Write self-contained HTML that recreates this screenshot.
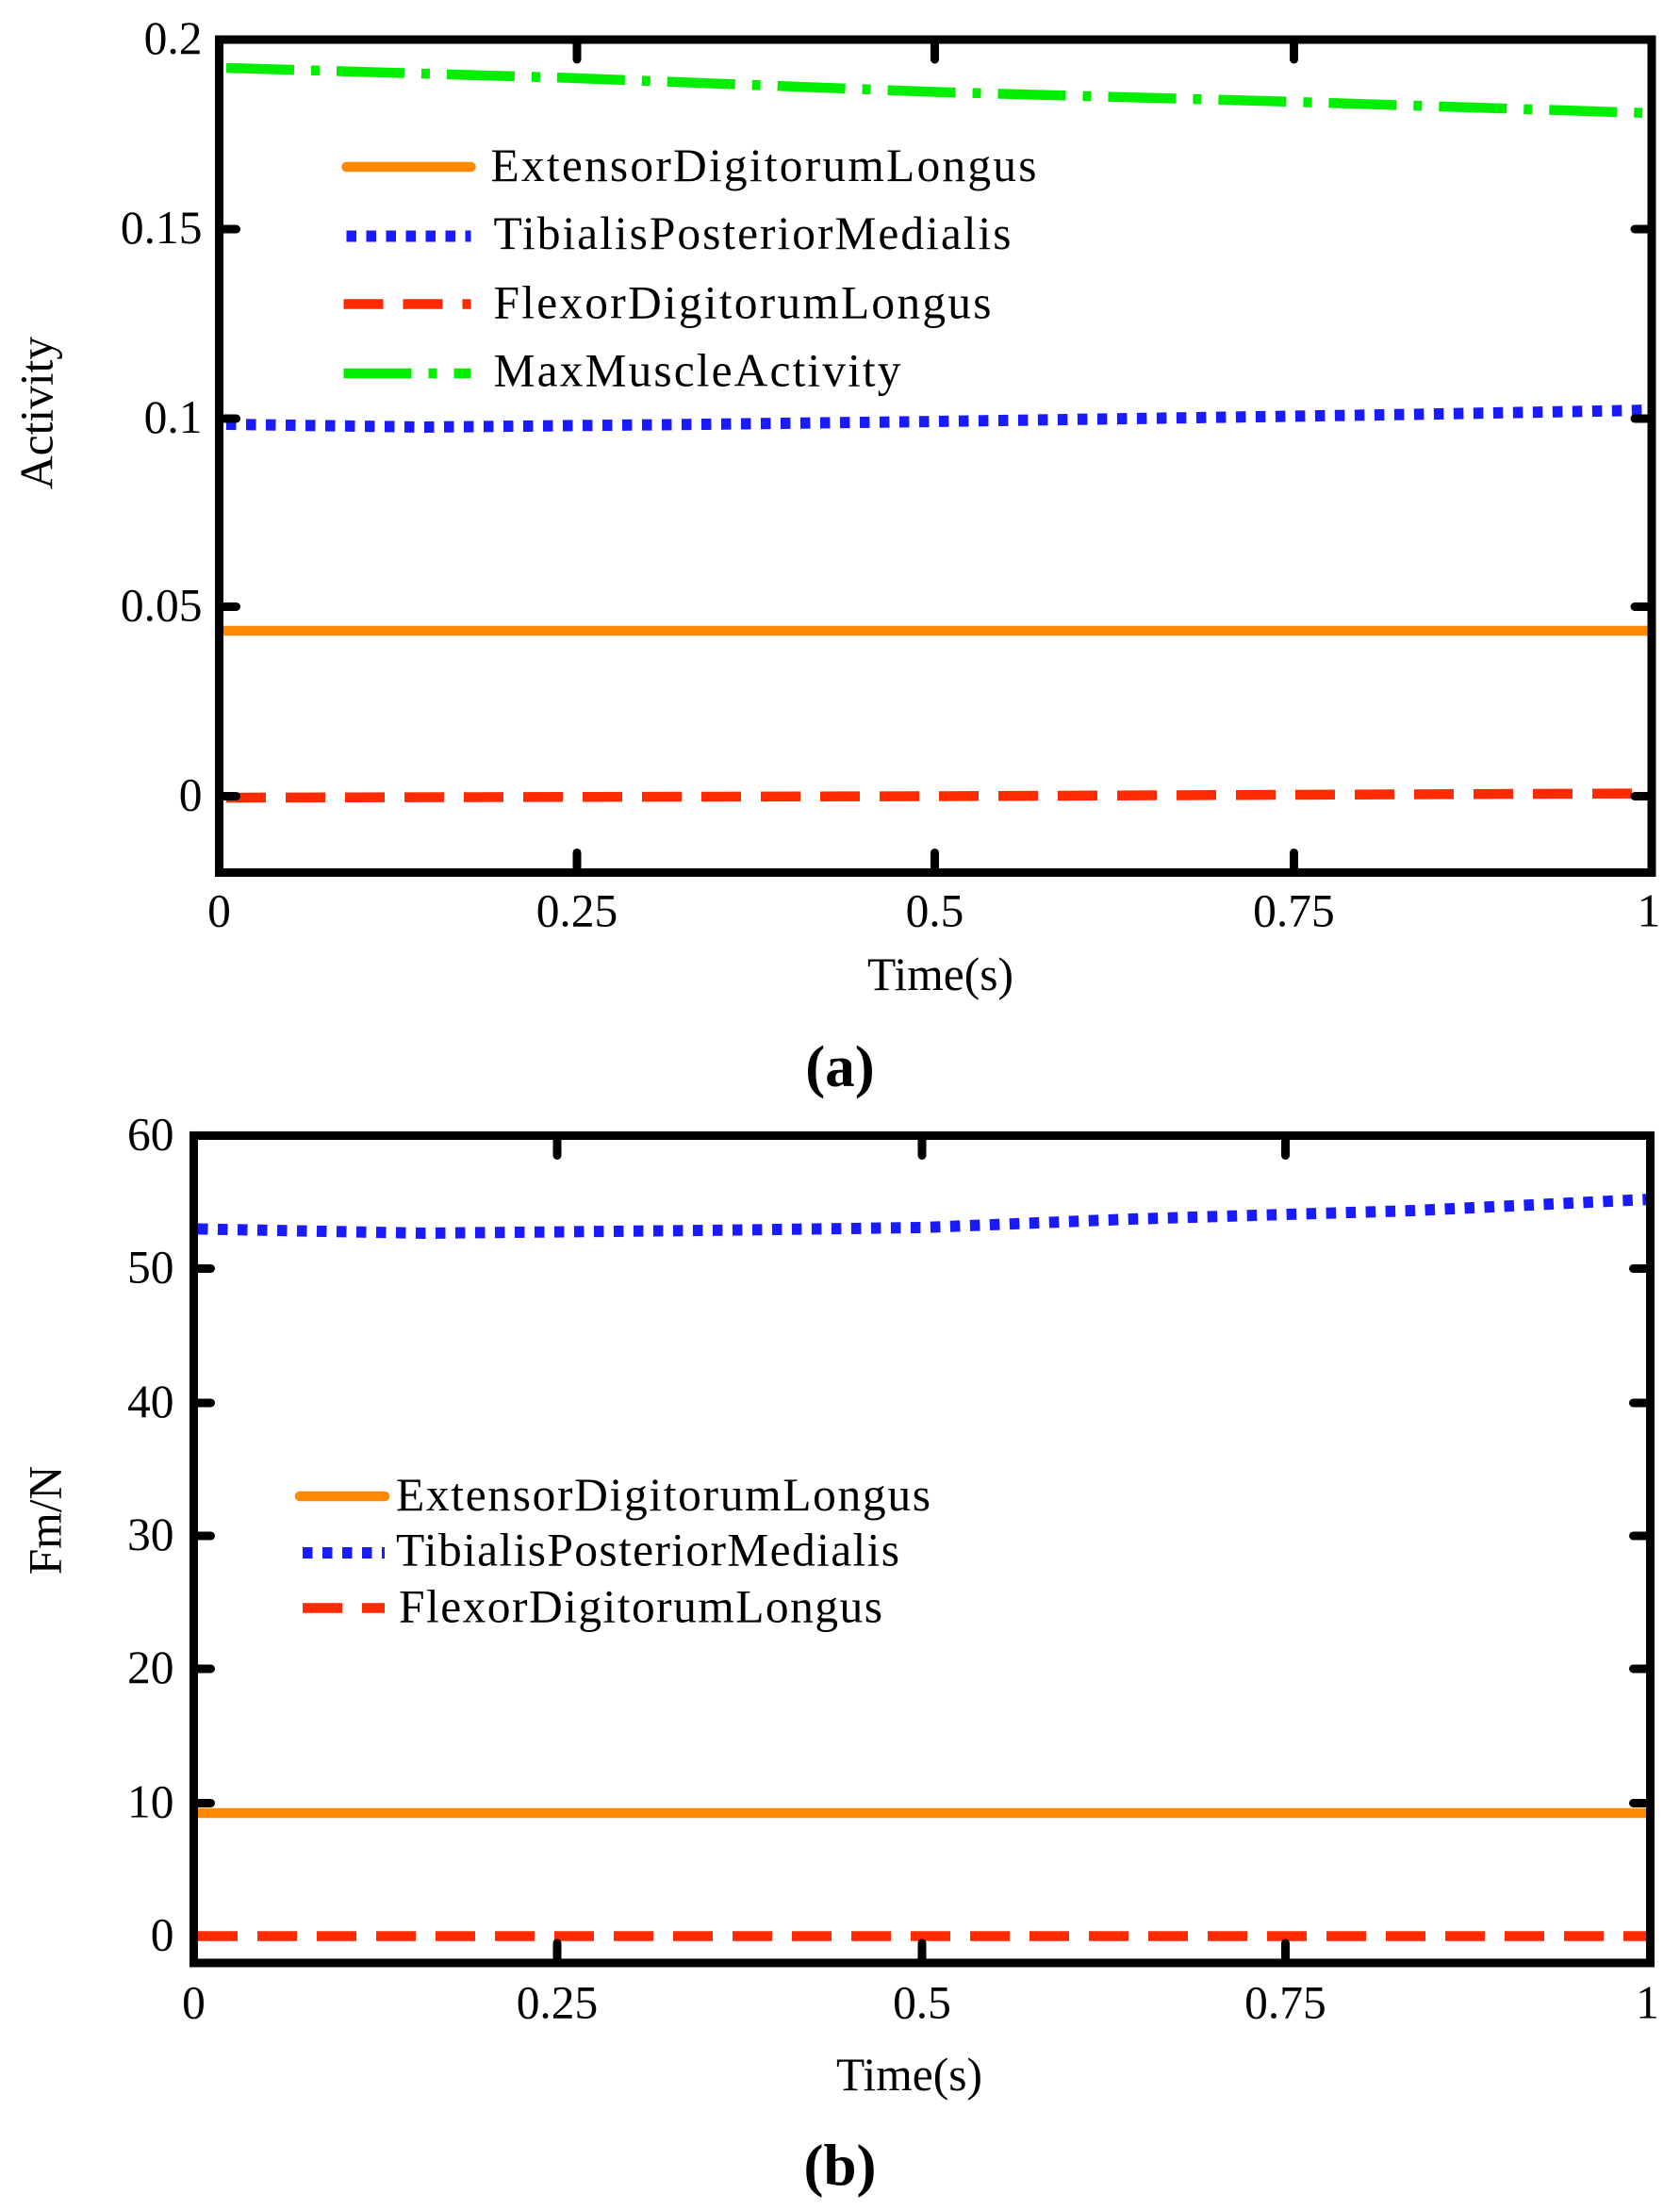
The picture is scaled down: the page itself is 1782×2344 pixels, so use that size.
<!DOCTYPE html>
<html><head><style>html,body{margin:0;padding:0;background:#fff}svg{display:block}text{font-family:"Liberation Serif","DejaVu Serif",serif}</style></head><body>
<svg width="1782" height="2344" viewBox="0 0 1188 1562.7" xmlns="http://www.w3.org/2000/svg">
<rect width="1188" height="1563" fill="#fff"/>
<!-- Plot A -->
<g>
<path d="M160,48 L400,55 L661,65 L915,72 L1168,80" fill="none" stroke="#00ee00" stroke-width="7" stroke-dasharray="48,12,6,12"/>
<path d="M160,300 L300,302 L500,300 L661,298 L800,296 L1000,293 L1168,290" fill="none" stroke="#1a1aff" stroke-width="8" stroke-dasharray="7,7"/>
<line x1="157" y1="446" x2="1168" y2="446" stroke="#ff8800" stroke-width="7"/>
<path d="M160,564 L661,563 L1168,561" fill="none" stroke="#ff2a00" stroke-width="7" stroke-dasharray="28,14"/>
<rect x="155" y="28" width="1013" height="589" fill="none" stroke="#000" stroke-width="6"/>
<g stroke="#000" stroke-width="6" stroke-linecap="round">
<line x1="408" y1="30" x2="408" y2="42"/><line x1="661" y1="30" x2="661" y2="42"/><line x1="915" y1="30" x2="915" y2="42"/>
<line x1="408" y1="615" x2="408" y2="603"/><line x1="661" y1="615" x2="661" y2="603"/><line x1="915" y1="615" x2="915" y2="603"/>
<line x1="157" y1="162" x2="167" y2="162"/><line x1="157" y1="296" x2="167" y2="296"/><line x1="157" y1="429" x2="167" y2="429"/><line x1="157" y1="563" x2="167" y2="563"/>
<line x1="1166" y1="162" x2="1156" y2="162"/><line x1="1166" y1="296" x2="1156" y2="296"/><line x1="1166" y1="429" x2="1156" y2="429"/><line x1="1166" y1="563" x2="1156" y2="563"/>
</g>
<g font-size="33" text-anchor="end">
<text x="143" y="38">0.2</text><text x="143" y="172">0.15</text><text x="143" y="306">0.1</text><text x="143" y="439">0.05</text><text x="143" y="573">0</text>
</g>
<g font-size="33" text-anchor="middle">
<text x="155" y="655">0</text><text x="408" y="655">0.25</text><text x="661" y="655">0.5</text><text x="915" y="655">0.75</text><text x="1166" y="655">1</text>
<text x="665" y="700">Time(s)</text>
<text x="594" y="768" font-size="42" font-weight="bold">(a)</text>
</g>
<text transform="translate(37,292) rotate(-90)" font-size="33" text-anchor="middle">Activity</text>
<g font-size="33">
<line x1="245" y1="118" x2="333" y2="118" stroke="#ff8800" stroke-width="7" stroke-linecap="round"/>
<line x1="245" y1="167" x2="333" y2="167" stroke="#1a1aff" stroke-width="8" stroke-dasharray="7,7"/>
<line x1="243" y1="215" x2="333" y2="215" stroke="#ff2a00" stroke-width="7" stroke-dasharray="28,14"/>
<line x1="243" y1="264" x2="333" y2="264" stroke="#00ee00" stroke-width="7" stroke-dasharray="48,12,6,12"/>
<text x="347" y="128" textLength="386">ExtensorDigitorumLongus</text>
<text x="349" y="176" textLength="366">TibialisPosteriorMedialis</text>
<text x="349" y="225" textLength="352">FlexorDigitorumLongus</text>
<text x="349" y="273" textLength="288">MaxMuscleActivity</text>
</g>
</g>
<!-- Plot B -->
<g>
<path d="M140,869 L300,872 L500,870 L652,868 L800,862 L1000,856 L1167,848" fill="none" stroke="#1a1aff" stroke-width="8" stroke-dasharray="7,7"/>
<line x1="139" y1="1282" x2="1167" y2="1282" stroke="#ff8800" stroke-width="7"/>
<line x1="140" y1="1369" x2="1167" y2="1369" stroke="#ff2a00" stroke-width="7" stroke-dasharray="28,14"/>
<rect x="137" y="803" width="1030" height="585" fill="none" stroke="#000" stroke-width="6"/>
<g stroke="#000" stroke-width="6" stroke-linecap="round">
<line x1="394" y1="805" x2="394" y2="817"/><line x1="652" y1="805" x2="652" y2="817"/><line x1="909" y1="805" x2="909" y2="817"/>
<line x1="394" y1="1386" x2="394" y2="1374"/><line x1="652" y1="1386" x2="652" y2="1374"/><line x1="909" y1="1386" x2="909" y2="1374"/>
<line x1="139" y1="897" x2="149" y2="897"/><line x1="139" y1="992" x2="149" y2="992"/><line x1="139" y1="1086" x2="149" y2="1086"/><line x1="139" y1="1180" x2="149" y2="1180"/><line x1="139" y1="1275" x2="149" y2="1275"/>
<line x1="1165" y1="897" x2="1155" y2="897"/><line x1="1165" y1="992" x2="1155" y2="992"/><line x1="1165" y1="1086" x2="1155" y2="1086"/><line x1="1165" y1="1180" x2="1155" y2="1180"/><line x1="1165" y1="1275" x2="1155" y2="1275"/>
</g>
<g font-size="33" text-anchor="end">
<text x="123" y="813">60</text><text x="123" y="907">50</text><text x="123" y="1002">40</text><text x="123" y="1096">30</text><text x="123" y="1190">20</text><text x="123" y="1285">10</text><text x="123" y="1379">0</text>
</g>
<g font-size="33" text-anchor="middle">
<text x="137" y="1427">0</text><text x="394" y="1427">0.25</text><text x="652" y="1427">0.5</text><text x="909" y="1427">0.75</text><text x="1165" y="1427">1</text>
<text x="643" y="1478">Time(s)</text>
<text x="594" y="1545" font-size="42" font-weight="bold">(b)</text>
</g>
<text transform="translate(43,1075) rotate(-90)" font-size="33" text-anchor="middle">Fm/N</text>
<g font-size="33">
<line x1="212" y1="1058" x2="272" y2="1058" stroke="#ff8800" stroke-width="7" stroke-linecap="round"/>
<line x1="214" y1="1098" x2="272" y2="1098" stroke="#1a1aff" stroke-width="8" stroke-dasharray="7,7"/>
<line x1="214" y1="1137" x2="272" y2="1137" stroke="#ff2a00" stroke-width="7" stroke-dasharray="28,14"/>
<text x="280" y="1068" textLength="378">ExtensorDigitorumLongus</text>
<text x="280" y="1107" textLength="356">TibialisPosteriorMedialis</text>
<text x="282" y="1147" textLength="342">FlexorDigitorumLongus</text>
</g>
</g>
</svg>
</body></html>
